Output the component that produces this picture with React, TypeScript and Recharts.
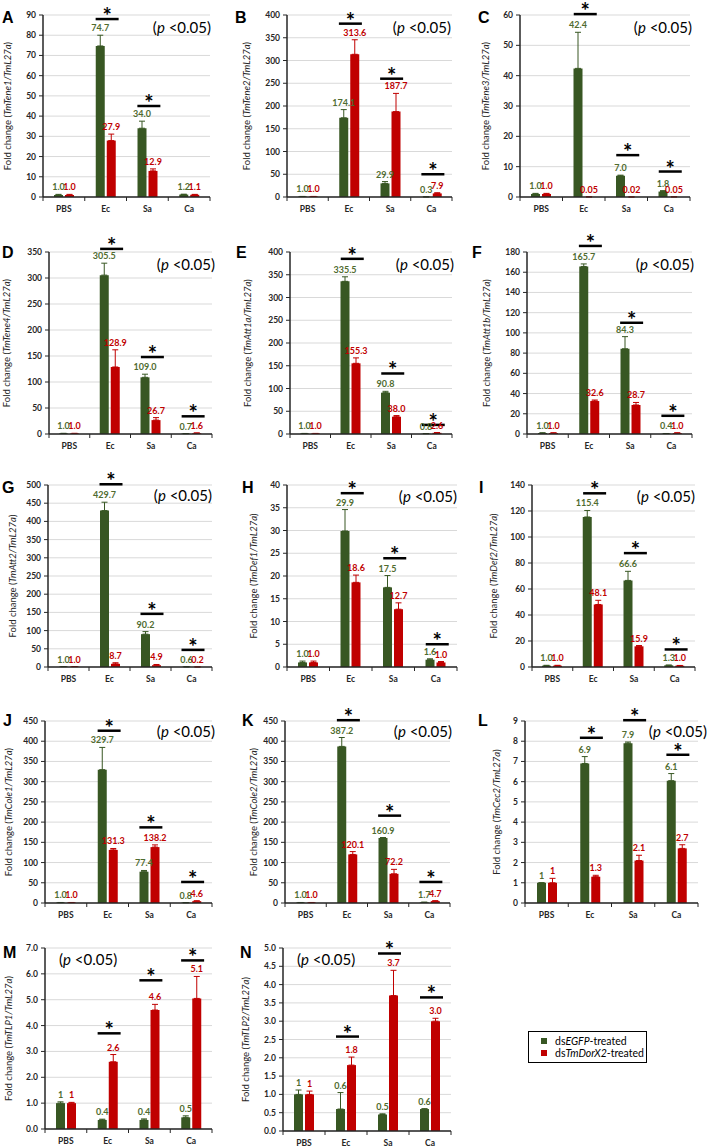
import React from 'react';
import { BarChart, Bar, XAxis, YAxis, CartesianGrid, ErrorBar, LabelList, ReferenceDot } from 'recharts';

const FONT = 'Lato, "Open Sans", sans-serif';
const GREEN = '#385723';
const GREEN_TXT = '#4f6b2f';
const RED = '#c00000';
const AXIS = '#262626';

const CATS = ['PBS', 'Ec', 'Sa', 'Ca'];

// A - TmTene1
const A_G = [1.0, 74.7, 34.0, 1.2];
const A_GE = [0.3, 5.3, 3.5, 0.2];
const A_R = [1.0, 27.9, 12.9, 1.1];
const A_RE = [0.3, 3.2, 1.0, 0.2];
const A_SIG = [null, 88, 45, null];
const A_TICKS = [0, 10, 20, 30, 40, 50, 60, 70, 80, 90];

// B - TmTene2
const B_G = [1.0, 174.1, 29.9, 0.3];
const B_GE = [0.3, 18, 4, 0.1];
const B_R = [1.0, 313.6, 187.7, 7.9];
const B_RE = [0.3, 32, 40, 1.5];
const B_SIG = [null, 381, 260, 50];
const B_TICKS = [0, 50, 100, 150, 200, 250, 300, 350, 400];

// C - TmTene3
const C_G = [1.0, 42.4, 7.0, 1.8];
const C_GE = [0.2, 11.9, 0.2, 0.3];
const C_R = [1.0, 0.05, 0.02, 0.05];
const C_RE = [0.2, 0, 0, 0];
const C_R_LBL = ['1.0', '0.05', '0.02', '0.05'];
const C_SIG = [null, 60.3, 13.8, 8.4];
const C_TICKS = [0, 10, 20, 30, 40, 50, 60];

// D - TmTene4
const D_G = [1.0, 305.5, 109.0, 0.7];
const D_GE = [0.3, 23, 6, 0.1];
const D_R = [1.0, 128.9, 26.7, 1.6];
const D_RE = [0.3, 33, 4.8, 0.5];
const D_SIG = [null, 356, 148, 34];
const D_TICKS = [0, 50, 100, 150, 200, 250, 300, 350];

// E - TmAtt1a
const E_G = [1.0, 335.5, 90.8, 0.8];
const E_GE = [0.3, 10, 3, 0.1];
const E_R = [1.0, 155.3, 38.0, 2.6];
const E_RE = [0.3, 12, 2.5, 0.5];
const E_SIG = [null, 385, 133, 20];
const E_TICKS = [0, 50, 100, 150, 200, 250, 300, 350, 400];

// F - TmAtt1b
const F_G = [1.0, 165.7, 84.3, 0.4];
const F_GE = [0.2, 2.5, 12, 0.1];
const F_R = [1.0, 32.6, 28.7, 1.0];
const F_RE = [0.2, 1, 2.5, 0.2];
const F_SIG = [null, 186, 110, 18];
const F_TICKS = [0, 20, 40, 60, 80, 100, 120, 140, 160, 180];

// G - TmAtt2
const G_G = [1.0, 429.7, 90.2, 0.6];
const G_GE = [0.3, 23, 7, 0.1];
const G_R = [1.0, 8.7, 4.9, 0.2];
const G_RE = [0.3, 3, 2, 0.1];
const G_SIG = [null, 502, 146, 47];
const G_TICKS = [0, 50, 100, 150, 200, 250, 300, 350, 400, 450, 500];

// H - TmDef1
const H_G = [1.0, 29.9, 17.5, 1.6];
const H_GE = [0.3, 4.7, 2.6, 0.2];
const H_R = [1.0, 18.6, 12.7, 1.0];
const H_RE = [0.3, 1.6, 1.4, 0.2];
const H_SIG = [null, 38.2, 23.9, 5.0];
const H_TICKS = [0, 5, 10, 15, 20, 25, 30, 35, 40];

// I - TmDef2
const I_G = [1.0, 115.4, 66.6, 1.3];
const I_GE = [0.3, 5, 7, 0.2];
const I_R = [1.0, 48.1, 15.9, 1.0];
const I_RE = [0.3, 3.2, 0.6, 0.2];
const I_SIG = [null, 133.6, 87.6, 13.5];
const I_TICKS = [0, 20, 40, 60, 80, 100, 120, 140];

// J - TmCole1
const J_G = [1.0, 329.7, 77.4, 0.8];
const J_GE = [0.3, 55, 3, 0.1];
const J_R = [1.0, 131.3, 138.2, 4.6];
const J_RE = [0.3, 3.5, 5.5, 1];
const J_SIG = [null, 426, 187, 52];
const J_TICKS = [0, 50, 100, 150, 200, 250, 300, 350, 400, 450];

// K - TmCole2
const K_G = [1.0, 387.2, 160.9, 1.7];
const K_GE = [0.3, 22, 1, 0.3];
const K_R = [1.0, 120.1, 72.2, 4.7];
const K_RE = [0.3, 7, 11, 1];
const K_SIG = [null, 452, 216, 52];
const K_TICKS = [0, 50, 100, 150, 200, 250, 300, 350, 400, 450];

// L - TmCec2
const L_G = [1, 6.9, 7.9, 6.05];
const L_GE = [0, 0.34, 0.06, 0.35];
const L_R = [1, 1.3, 2.1, 2.7];
const L_RE = [0.22, 0.07, 0.26, 0.18];
const L_G_LBL = ['1', '6.9', '7.9', '6.1'];
const L_R_LBL = ['1', '1.3', '2.1', '2.7'];
const L_SIG = [null, 8.17, 9.04, 7.33];
const L_TICKS = [0, 1, 2, 3, 4, 5, 6, 7, 8, 9];

// M - TmTLP1
const M_G = [1, 0.35, 0.35, 0.45];
const M_GE = [0.05, 0.03, 0.04, 0.06];
const M_R = [1, 2.6, 4.6, 5.05];
const M_RE = [0.03, 0.28, 0.22, 0.85];
const M_G_LBL = ['1', '0.4', '0.4', '0.5'];
const M_R_LBL = ['1', '2.6', '4.6', '5.1'];
const M_SIG = [null, 3.7, 5.75, 6.52];
const M_TICKS = [0, 1, 2, 3, 4, 5, 6, 7];

// N - TmTLP2
const N_G = [1, 0.6, 0.45, 0.6];
const N_GE = [0.12, 0.45, 0.02, 0.01];
const N_R = [1, 1.8, 3.7, 3.0];
const N_RE = [0.09, 0.22, 0.69, 0.08];
const N_G_LBL = ['1', '0.6', '0.5', '0.6'];
const N_R_LBL = ['1', '1.8', '3.7', '3.0'];
const N_SIG = [null, 2.58, 4.85, 3.65];
const N_TICKS = [0, 0.5, 1, 1.5, 2, 2.5, 3, 3.5, 4, 4.5, 5];

// layout: ax = y-axis x, top/bot = plot top/bottom, right = plot right
// lx/ly = panel letter, ylx = y title centre, px/py = (p <0.05)
const PANELS: any[] = [
  { id: 'A', gene: 'TmTene1', g: A_G, ge: A_GE, r: A_R, re: A_RE, sig: A_SIG, ticks: A_TICKS, ax: 43, top: 15, bot: 197, right: 210, lx: 2, ly: 23, ylx: 7, px: 211, py: 33, pa: 'end' },
  { id: 'B', gene: 'TmTene2', g: B_G, ge: B_GE, r: B_R, re: B_RE, sig: B_SIG, ticks: B_TICKS, ax: 287, top: 15, bot: 197, right: 452, lx: 235, ly: 23, ylx: 246, px: 451, py: 33, pa: 'end' },
  { id: 'C', gene: 'TmTene3', g: C_G, ge: C_GE, r: C_R, re: C_RE, rl: C_R_LBL, sig: C_SIG, ticks: C_TICKS, ax: 520, top: 15, bot: 197, right: 690, lx: 478, ly: 23, ylx: 485, px: 692, py: 33, pa: 'end' },
  { id: 'D', gene: 'TmTene4', g: D_G, ge: D_GE, r: D_R, re: D_RE, sig: D_SIG, ticks: D_TICKS, ax: 49, top: 252, bot: 434, right: 212, lx: 2, ly: 258, ylx: 6, px: 215, py: 270, pa: 'end' },
  { id: 'E', gene: 'TmAtt1a', g: E_G, ge: E_GE, r: E_R, re: E_RE, sig: E_SIG, ticks: E_TICKS, ax: 290, top: 252, bot: 434, right: 452, lx: 236, ly: 258, ylx: 247, px: 454, py: 270, pa: 'end' },
  { id: 'F', gene: 'TmAtt1b', g: F_G, ge: F_GE, r: F_R, re: F_RE, sig: F_SIG, ticks: F_TICKS, ax: 527, top: 252, bot: 434, right: 692, lx: 472, ly: 258, ylx: 486, px: 694, py: 270, pa: 'end' },
  { id: 'G', gene: 'TmAtt2', g: G_G, ge: G_GE, r: G_R, re: G_RE, sig: G_SIG, ticks: G_TICKS, ax: 48, top: 485, bot: 667, right: 212, lx: 2, ly: 493, ylx: 12, px: 212, py: 501, pa: 'end' },
  { id: 'H', gene: 'TmDef1', g: H_G, ge: H_GE, r: H_R, re: H_RE, sig: H_SIG, ticks: H_TICKS, ax: 287, top: 485, bot: 667, right: 457, lx: 242, ly: 493, ylx: 253, px: 457, py: 502, pa: 'end' },
  { id: 'I', gene: 'TmDef2', g: I_G, ge: I_GE, r: I_R, re: I_RE, sig: I_SIG, ticks: I_TICKS, ax: 532, top: 485, bot: 667, right: 695, lx: 479, ly: 493, ylx: 493, px: 695, py: 502, pa: 'end' },
  { id: 'J', gene: 'TmCole1', g: J_G, ge: J_GE, r: J_R, re: J_RE, sig: J_SIG, ticks: J_TICKS, ax: 45, top: 721, bot: 903, right: 212, lx: 3, ly: 726, ylx: 8, px: 215, py: 737, pa: 'end' },
  { id: 'K', gene: 'TmCole2', g: K_G, ge: K_GE, r: K_R, re: K_RE, sig: K_SIG, ticks: K_TICKS, ax: 285, top: 721, bot: 903, right: 450, lx: 242, ly: 726, ylx: 253, px: 452, py: 737, pa: 'end' },
  { id: 'L', gene: 'TmCec2', g: L_G, ge: L_GE, r: L_R, re: L_RE, gl: L_G_LBL, rl: L_R_LBL, sig: L_SIG, ticks: L_TICKS, ax: 525, top: 721, bot: 903, right: 698, lx: 478, ly: 726, ylx: 496, px: 707, py: 737, pa: 'end' },
  { id: 'M', gene: 'TmTLP1', g: M_G, ge: M_GE, r: M_R, re: M_RE, gl: M_G_LBL, rl: M_R_LBL, sig: M_SIG, ticks: M_TICKS, dec: 1, ax: 45, top: 948, bot: 1129, right: 212, lx: 3, ly: 958, ylx: 8, px: 59, py: 965, pa: 'start' },
  { id: 'N', gene: 'TmTLP2', g: N_G, ge: N_GE, r: N_R, re: N_RE, gl: N_G_LBL, rl: N_R_LBL, sig: N_SIG, ticks: N_TICKS, dec: 1, ax: 283, top: 948, bot: 1131, right: 451, lx: 240, ly: 958, ylx: 245, px: 297, py: 965, pa: 'start' },
];

const CatTick = (props: any) => {
  const { x, y, payload, index } = props;
  const half = payload && payload.offset ? payload.offset : 20.5;
  return (
    <g>
      <line x1={x - half} x2={x - half} y1={y} y2={y + 4} stroke={AXIS} strokeWidth={1} />
      {index === CATS.length - 1 && (
        <line x1={x + half} x2={x + half} y1={y} y2={y + 4} stroke={AXIS} strokeWidth={1} />
      )}
      <text x={x} y={y + 15} textAnchor="middle" fontSize={8.5} fontWeight={700} fill={AXIS} fontFamily={FONT}>
        {payload.value}
      </text>
    </g>
  );
};

// significance bar + asterisk, centred a little right of the category centre
const SigMark = (props: any) => {
  const { cx, cy } = props;
  if (!isFinite(cx) || !isFinite(cy)) return <g />;
  const c = cx + 1.5;
  return (
    <g>
      <line x1={c - 11.5} y1={cy} x2={c + 11.5} y2={cy} stroke="#000" strokeWidth={2.5} />
      <text x={c} y={cy + 5} textAnchor="middle" fontSize={22} fontWeight={700} fontFamily={FONT} fill="#000">*</text>
    </g>
  );
};

const YW = 42;
const MT = 22;
const XH = 24;

function Panel({ p }: { p: any }) {
  const data = CATS.map((c, i) => ({
    cat: c,
    g: p.g[i],
    r: p.r[i],
    gErr: [0, p.ge[i]],
    rErr: [0, p.re[i]],
    gTop: p.g[i] + p.ge[i],
    rTop: p.r[i] + p.re[i],
    gLab: p.gl ? p.gl[i] : p.g[i].toFixed(1),
    rLab: p.rl ? p.rl[i] : p.r[i].toFixed(1),
  }));
  const plotW = p.right - p.ax;
  const plotH = p.bot - p.top;
  const max = p.ticks[p.ticks.length - 1];
  const lbl = { fontSize: 9, fontWeight: 700, fontFamily: FONT };
  return (
    <div style={{ position: 'absolute', left: p.ax - YW, top: p.top - MT }}>
      <BarChart
        width={plotW + YW + 6}
        height={plotH + MT + XH}
        data={data}
        margin={{ top: MT, right: 6, bottom: 0, left: 0 }}
        barGap={2}
      >
        <CartesianGrid vertical={false} stroke="#d9d9d9" />
        <XAxis
          dataKey="cat"
          height={XH}
          interval={0}
          tickSize={0}
          tickMargin={0}
          tickLine={false}
          axisLine={{ stroke: AXIS, strokeWidth: 1.5 }}
          tick={<CatTick />}
        />
        <XAxis xAxisId="lab" dataKey="cat" hide />
        <YAxis
          width={YW}
          domain={[0, max]}
          ticks={p.ticks}
          interval={0}
          tickSize={4}
          tickMargin={3}
          tickLine={{ stroke: AXIS }}
          axisLine={{ stroke: AXIS, strokeWidth: 1.5 }}
          tickFormatter={(v: number) => (p.dec ? v.toFixed(p.dec) : String(v))}
          tick={{ fontSize: 8.5, fontWeight: 700, fill: AXIS, fontFamily: FONT }}
        />
        <Bar dataKey="g" fill={GREEN} barSize={9} isAnimationActive={false}>
          <ErrorBar dataKey="gErr" width={3} stroke={GREEN} strokeWidth={1} direction="y" />
        </Bar>
        <Bar dataKey="r" fill={RED} barSize={9} isAnimationActive={false}>
          <ErrorBar dataKey="rErr" width={3} stroke={RED} strokeWidth={1} direction="y" />
        </Bar>
        <Bar xAxisId="lab" dataKey="gTop" fill="none" barSize={9} isAnimationActive={false}>
          <LabelList dataKey="gLab" position="top" offset={4} fill={GREEN_TXT} {...lbl} />
        </Bar>
        <Bar xAxisId="lab" dataKey="rTop" fill="none" barSize={9} isAnimationActive={false}>
          <LabelList dataKey="rLab" position="top" offset={4} fill={RED} {...lbl} />
        </Bar>
        {CATS.map((c, i) =>
          p.sig[i] == null ? null : (
            <ReferenceDot key={c} x={c} y={p.sig[i]} ifOverflow="visible" shape={<SigMark />} />
          )
        )}
      </BarChart>
    </div>
  );
}

export default function App() {
  return (
    <div style={{ position: 'absolute', left: 0, top: 0, width: 707, height: 1147, background: '#fff', overflow: 'hidden' }}>
      {PANELS.map((p) => (
        <Panel key={p.id} p={p} />
      ))}
      <svg width={707} height={1147} style={{ position: 'absolute', left: 0, top: 0, pointerEvents: 'none' }}>
        {PANELS.map((p) => (
          <g key={p.id}>
            <text x={p.lx} y={p.ly} fontSize={16} fontWeight={700} fontFamily="'Liberation Sans', Arial, sans-serif" fill="#000">
              {p.id}
            </text>
            <text x={p.px} y={p.py} textAnchor={p.pa} fontSize={15} fontFamily={FONT} fill="#000">
              (<tspan fontStyle="italic">p</tspan> &lt;0.05)
            </text>
            <text
              transform={`translate(${p.ylx},${(p.top + p.bot) / 2}) rotate(-90)`}
              textAnchor="middle"
              dominantBaseline="central"
              fontSize={9.5}
              fill={AXIS}
              fontFamily={FONT}
            >
              Fold change (<tspan fontStyle="italic">{p.gene}/TmL27a</tspan>)
            </text>
          </g>
        ))}
        <rect x={528.5} y={1031.5} width={118} height={31} fill="#fff" stroke="#000" strokeWidth={1} />
        <rect x={541} y={1038} width={6} height={6} fill={GREEN} />
        <text x={555} y={1044.5} fontSize={10.5} fontFamily={FONT} fill="#000">
          ds<tspan fontStyle="italic">EGFP</tspan>-treated
        </text>
        <rect x={541} y={1050} width={6} height={6} fill={RED} />
        <text x={555} y={1056.5} fontSize={10.5} fontFamily={FONT} fill="#000">
          ds<tspan fontStyle="italic">TmDorX2</tspan>-treated
        </text>
      </svg>
    </div>
  );
}
